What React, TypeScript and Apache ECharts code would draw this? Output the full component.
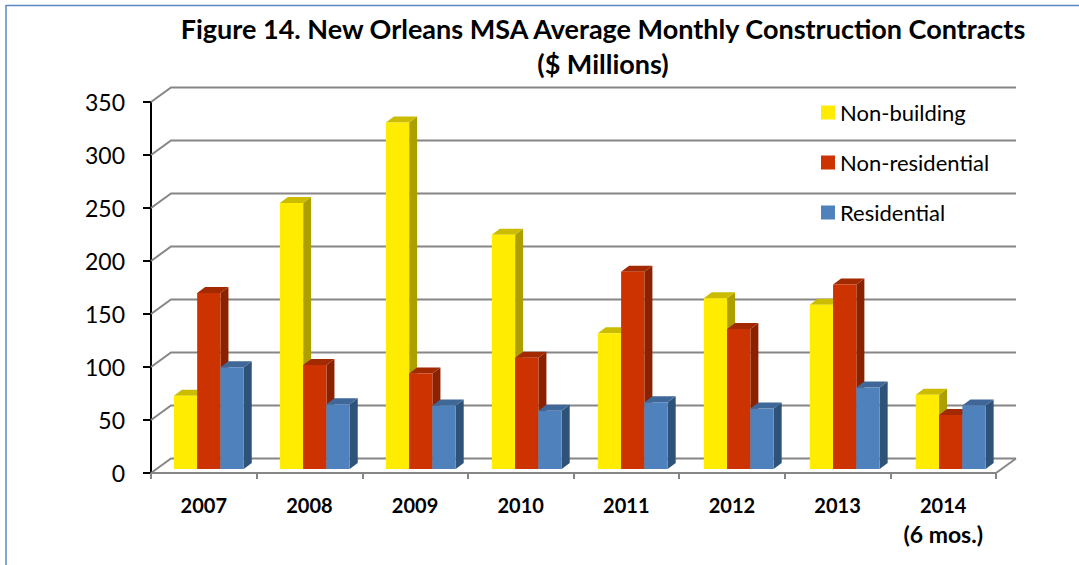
import React, { useEffect, useRef } from "react";
import * as echarts from "echarts";

const titleLines = [
  "Figure 14. New Orleans MSA Average Monthly Construction Contracts",
  "($ Millions)",
];
const categories = ["2007", "2008", "2009", "2010", "2011", "2012", "2013", "2014\n(6 mos.)"];
const nonBuilding = [69, 251, 327, 221, 128, 161, 155, 70];
const nonResidential = [166, 98, 90, 105, 186, 132, 174, 51];
const residential = [96, 61, 60, 55, 63, 57, 77, 60];
const yTicks = [0, 50, 100, 150, 200, 250, 300, 350];

const FONT = "Lato";
const GRID = "#868686";
const DX = 20;
const DY = -14.5;

const palette = [
  { name: "Non-building", data: nonBuilding, front: "#FFEC00", top: "#CCBC00", side: "#AD9F00" },
  { name: "Non-residential", data: nonResidential, front: "#CC3300", top: "#A32900", side: "#8A2200" },
  { name: "Residential", data: residential, front: "#4F81BD", top: "#3F6797", side: "#2F5279" },
];

function wallItem(params: any, api: any) {
  const c = params.coordSys;
  const y = api.coord([0, api.value(1)])[1];
  const isFloor = api.value(1) === 0;
  const style = { stroke: GRID, lineWidth: 2, fill: "none" };
  const children: any[] = [
    {
      type: "polyline",
      shape: { points: [[c.x, y], [c.x + DX, y + DY], [c.x + c.width + DX, y + DY]] },
      style,
    },
  ];
  if (isFloor) {
    children.push({
      type: "line",
      shape: { x1: c.x + c.width, y1: y, x2: c.x + c.width + DX, y2: y + DY },
      style,
    });
  }
  return { type: "group", children };
}

function barRenderer(seriesIndex: number) {
  return (_params: any, api: any) => {
    const idx = api.value(0);
    const top = api.coord([idx, api.value(1)]);
    const base = api.coord([idx, 0]);
    const w = api.size([1, 0])[0] * 0.2205;
    const s = palette[seriesIndex];
    const x0 = top[0] + 5 + idx * 0.36 + (seriesIndex - 1.5) * w;
    const yt = top[1] - 4;
    const yb = base[1] - 4;
    const ddx = 8;
    const ddy = -6;
    return {
      type: "group",
      children: [
        {
          type: "polygon",
          shape: { points: [[x0 + w, yt], [x0 + w + ddx, yt + ddy], [x0 + w + ddx, yb + ddy], [x0 + w, yb]] },
          style: { fill: s.side },
        },
        {
          type: "polygon",
          shape: { points: [[x0, yt], [x0 + ddx, yt + ddy], [x0 + w + ddx, yt + ddy], [x0 + w, yt]] },
          style: { fill: s.top },
        },
        { type: "rect", shape: { x: x0, y: yt, width: w, height: yb - yt }, style: { fill: s.front } },
      ],
    };
  };
}

export default function App() {
  const ref = useRef<HTMLDivElement>(null);
  useEffect(() => {
    document.body.style.margin = "0";
    const chart = echarts.init(ref.current!, undefined, { renderer: "svg" });
    chart.setOption({
      animation: false,
      backgroundColor: "#FFFFFF",
      textStyle: { fontFamily: FONT },
      title: {
        text: titleLines.join("\n"),
        left: 603,
        top: 11,
        padding: 0,
        textAlign: "center",
        textStyle: { fontFamily: FONT, fontWeight: "bold", fontSize: 27, lineHeight: 35, color: "#000" },
      },
      legend: {
        orient: "vertical",
        left: 821,
        top: 100,
        padding: 0,
        itemWidth: 14,
        itemHeight: 14,
        itemGap: 25,
        itemStyle: { borderWidth: 0 },
        selectedMode: false,
        textStyle: { fontFamily: FONT, fontSize: 22, lineHeight: 22, color: "#000", padding: [0, 0, 3, 0] },
        data: palette.map((s) => ({ name: s.name, icon: "rect", itemStyle: { color: s.front } })),
      },
      grid: { left: 151, right: 83, top: 102, bottom: 92, containLabel: false },
      xAxis: {
        type: "category",
        data: categories,
        boundaryGap: true,
        axisLine: { lineStyle: { color: GRID, width: 2 } },
        axisTick: { show: true, length: 6, lineStyle: { color: GRID, width: 2 } },
        axisLabel: {
          fontFamily: FONT,
          fontWeight: "bold",
          fontSize: 20,
          lineHeight: 29,
          color: "#000",
          margin: 17,
          interval: 0,
          verticalAlign: "top",
          formatter: (v: string) => {
            const parts = v.split("\n");
            return parts.length > 1 ? `${parts[0]}\n{note|${parts[1]}}` : v;
          },
          rich: {
            note: { fontFamily: FONT, fontWeight: "bold", fontSize: 23, lineHeight: 29, color: "#000" },
          },
        },
      },
      yAxis: {
        type: "value",
        min: 0,
        max: 350,
        interval: 50,
        splitLine: { show: false },
        axisLine: { show: true, lineStyle: { color: "#000", width: 2 } },
        axisTick: { show: true, length: 8, lineStyle: { color: "#000", width: 2 } },
        axisLabel: { fontFamily: FONT, fontSize: 23, color: "#000", margin: 26 },
      },
      series: [
        {
          type: "custom",
          name: "wall",
          silent: true,
          clip: false,
          renderItem: wallItem,
          encode: { x: 0, y: 1 },
          data: yTicks.map((v) => [0, v]),
          z: 1,
        },
        ...palette.map((s, i) => ({
          type: "custom",
          name: s.name,
          silent: true,
          clip: false,
          itemStyle: { color: s.front },
          renderItem: barRenderer(i),
          encode: { x: 0, y: 1 },
          data: s.data.map((v, j) => [j, v]),
          z: 2 + i,
        })),
      ],
      graphic: [
        { type: "line", shape: { x1: 6, y1: 5.5, x2: 1079, y2: 5.5 }, style: { stroke: "#5B87BF", lineWidth: 1.5 } },
        { type: "line", shape: { x1: 6, y1: 5, x2: 6, y2: 565 }, style: { stroke: "#5B87BF", lineWidth: 1.5 } },
      ],
    });
    return () => chart.dispose();
  }, []);
  return <div ref={ref} style={{ position: "absolute", left: 0, top: 0, width: 1079, height: 565 }} />;
}
